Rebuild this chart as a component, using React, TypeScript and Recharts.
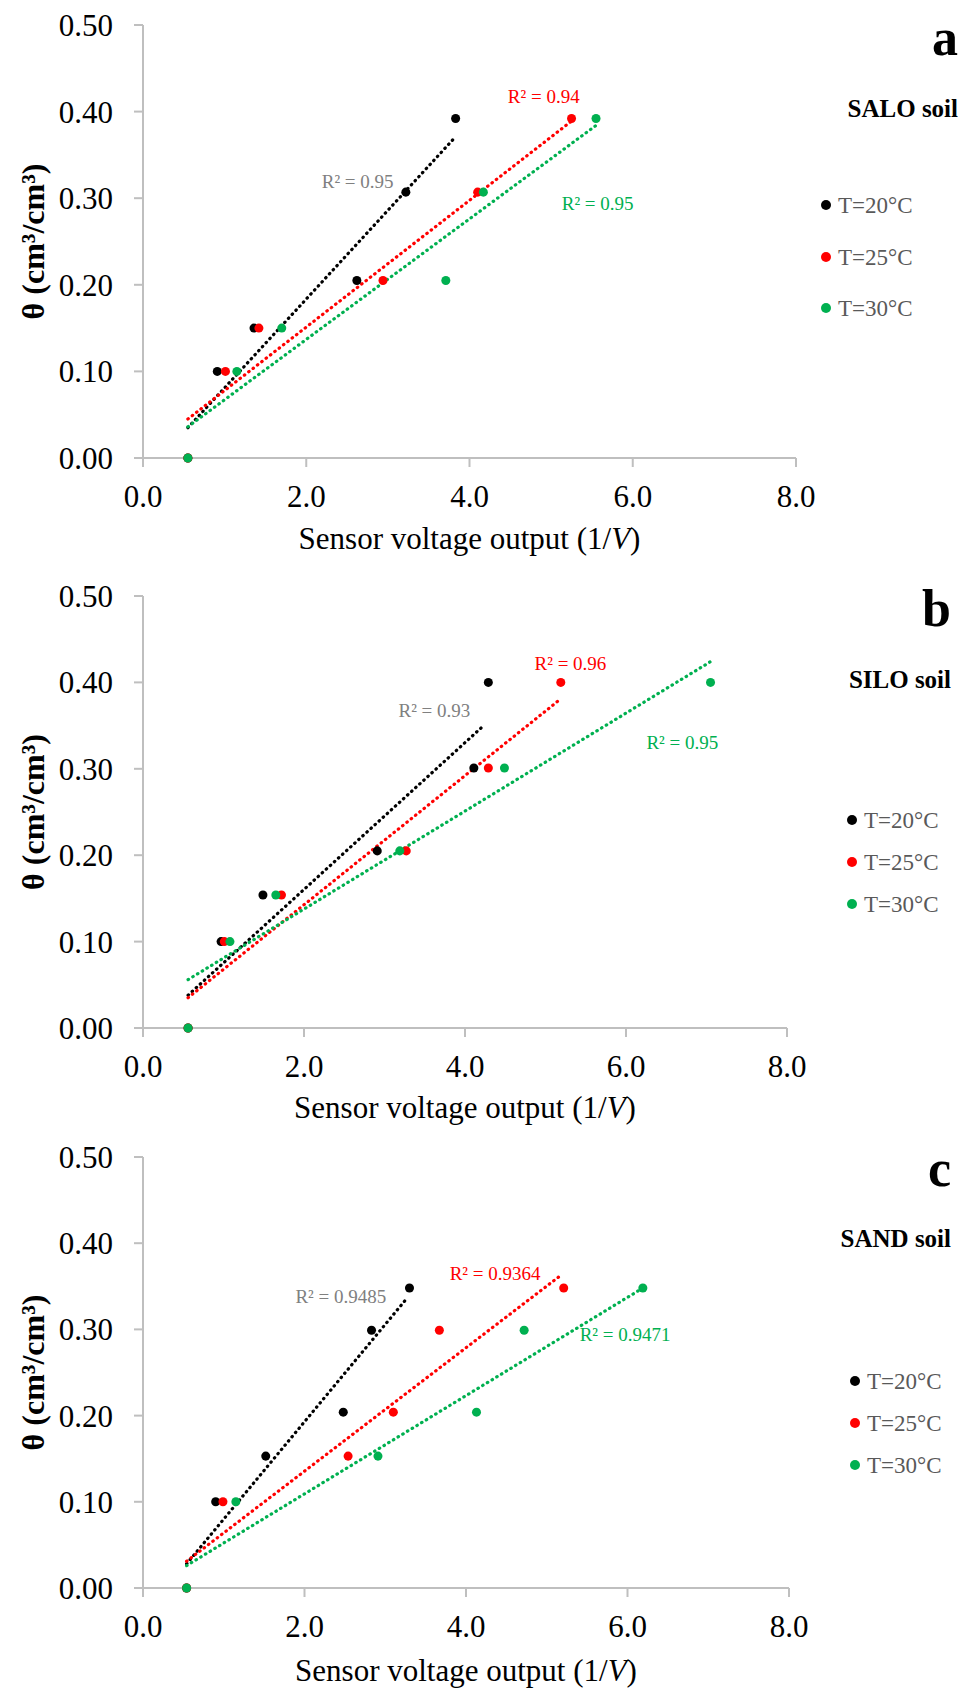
import { ScatterChart, Scatter, XAxis, YAxis, ReferenceLine, ReferenceDot } from 'recharts';

const FONT = "'Liberation Serif', 'Times New Roman', serif";
const AXIS = '#bfbfbf';
const COLORS = ['#000000', '#ff0000', '#00b050'];
const R2_COLORS = ['#808080', '#ff0000', '#00b050'];

const xTicks = [0, 2, 4, 6, 8];
const yTicks = [0, 0.1, 0.2, 0.3, 0.4, 0.5];
const tempLabels = ['T=20°C', 'T=25°C', 'T=30°C'];

// a - SALO soil
const saloTheta = [0, 0.1, 0.15, 0.205, 0.307, 0.392];
const saloV20 = [0.55, 0.91, 1.36, 2.62, 3.22, 3.83];
const saloV25 = [0.55, 1.01, 1.42, 2.94, 4.1, 5.25];
const saloV30 = [0.55, 1.15, 1.7, 3.71, 4.17, 5.55];
const saloTrend20 = [0.55, 0.035, 3.83, 0.371];
const saloTrend25 = [0.55, 0.045, 5.25, 0.389];
const saloTrend30 = [0.55, 0.036, 5.55, 0.384];
const saloR2 = ['R² = 0.95', 'R² = 0.94', 'R² = 0.95'];
const saloR2At = [[2.63, 0.32], [4.91, 0.418], [5.57, 0.294]];

// b - SILO soil
const siloTheta = [0, 0.1, 0.154, 0.205, 0.301, 0.4];
const siloV20 = [0.56, 0.97, 1.49, 2.91, 4.11, 4.29];
const siloV25 = [0.56, 1.01, 1.72, 3.27, 4.29, 5.19];
const siloV30 = [0.56, 1.08, 1.65, 3.19, 4.49, 7.05];
const siloTrend20 = [0.56, 0.038, 4.22, 0.349];
const siloTrend25 = [0.56, 0.035, 5.19, 0.381];
const siloTrend30 = [0.56, 0.056, 7.05, 0.424];
const siloR2 = ['R² = 0.93', 'R² = 0.96', 'R² = 0.95'];
const siloR2At = [[3.62, 0.368], [5.31, 0.422], [6.7, 0.331]];

// c - SAND soil
const sandTheta = [0, 0.1, 0.153, 0.204, 0.299, 0.348];
const sandV20 = [0.54, 0.9, 1.52, 2.48, 2.83, 3.3];
const sandV25 = [0.54, 0.99, 2.54, 3.1, 3.67, 5.21];
const sandV30 = [0.54, 1.15, 2.91, 4.13, 4.72, 6.19];
const sandTrend20 = [0.54, 0.028, 3.25, 0.334];
const sandTrend25 = [0.54, 0.031, 5.15, 0.361];
const sandTrend30 = [0.54, 0.026, 6.19, 0.348];
const sandR2 = ['R² = 0.9485', 'R² = 0.9364', 'R² = 0.9471'];
const sandR2At = [[2.45, 0.338], [4.36, 0.365], [5.97, 0.294]];

const panels = [
  {
    theta: saloTheta, volts: [saloV20, saloV25, saloV30], trends: [saloTrend20, saloTrend25, saloTrend30],
    r2: saloR2, r2At: saloR2At,
    top: 0, height: 560, mt: 25, mr: 172, xh: 102, titleDy: 80,
  },
  {
    theta: siloTheta, volts: [siloV20, siloV25, siloV30], trends: [siloTrend20, siloTrend25, siloTrend30],
    r2: siloR2, r2At: siloR2At,
    top: 570, height: 560, mt: 26, mr: 181, xh: 102, titleDy: 79,
  },
  {
    theta: sandTheta, volts: [sandV20, sandV25, sandV30], trends: [sandTrend20, sandTrend25, sandTrend30],
    r2: sandR2, r2At: sandR2At,
    top: 1130, height: 558, mt: 27, mr: 179, xh: 100, titleDy: 82,
  },
];

// letter, soil name, legend placement
const sideNotes = [
  { letter: 'a', soil: 'SALO soil', right: 958, letterY: 55, soilY: 117, dotX: 826, dotY: [205, 257, 308] },
  { letter: 'b', soil: 'SILO soil', right: 951, letterY: 626, soilY: 688, dotX: 852, dotY: [820, 862, 904] },
  { letter: 'c', soil: 'SAND soil', right: 951, letterY: 1186, soilY: 1247, dotX: 855, dotY: [1381, 1423, 1465] },
];

const xTitle = (dy: number) => (props: any) => {
  const vb = props.viewBox;
  return (
    <text x={vb.x + vb.width / 2} y={vb.y + dy} textAnchor="middle" dominantBaseline="central"
      fontFamily={FONT} fontSize={31} fill="#000">
      Sensor voltage output (1/<tspan fontStyle="italic">V</tspan>)
    </text>
  );
};

const yTitle = (props: any) => {
  const vb = props.viewBox;
  const cx = vb.x + 33;
  const cy = vb.y + vb.height / 2;
  return (
    <text x={cx} y={cy} transform={`rotate(-90, ${cx}, ${cy})`} textAnchor="middle" dominantBaseline="central"
      fontFamily={FONT} fontSize={32} fontWeight="bold" fill="#000">
      θ (cm³/cm³)
    </text>
  );
};

const tickStyle = { fill: '#000', fontSize: 31, fontFamily: FONT, style: { fontFamily: FONT } };

function Panel({ p }: { p: any }) {
  const series = p.volts.map((v: number[]) => v.map((x, i) => ({ x, y: p.theta[i] })));
  return (
    <div style={{ position: 'absolute', left: 0, top: p.top, fontFamily: FONT }}>
      <ScatterChart width={968} height={p.height} margin={{ top: p.mt, right: p.mr, bottom: 0, left: 0 }}
        style={{ fontFamily: FONT }}>
        <XAxis type="number" dataKey="x" domain={[0, 8]} ticks={xTicks} tickFormatter={(v: number) => v.toFixed(1)}
          stroke={AXIS} strokeWidth={2} tickSize={9} tickMargin={18} height={p.xh} fontFamily={FONT}
          tick={tickStyle} label={{ content: xTitle(p.titleDy) }} />
        <YAxis type="number" dataKey="y" domain={[0, 0.5]} ticks={yTicks} tickFormatter={(v: number) => v.toFixed(2)}
          stroke={AXIS} strokeWidth={2} tickSize={9} tickMargin={21} width={143} fontFamily={FONT}
          tick={tickStyle} label={{ content: yTitle }} />
        {p.trends.map((t: number[], i: number) => (
          <ReferenceLine key={`t${i}`} segment={[{ x: t[0], y: t[1] }, { x: t[2], y: t[3] }]}
            stroke={COLORS[i]} strokeWidth={3.2} strokeDasharray="0.5 5" strokeLinecap="round" />
        ))}
        {series.map((d: any[], i: number) => (
          <Scatter key={`s${i}`} name={tempLabels[i]} data={d} fill={COLORS[i]} isAnimationActive={false} />
        ))}
        {p.r2.map((txt: string, i: number) => (
          <ReferenceDot key={`r${i}`} x={p.r2At[i][0]} y={p.r2At[i][1]} r={0} fill="none" stroke="none"
            label={{ value: txt, position: 'center', fill: R2_COLORS[i], fontSize: 19, fontFamily: FONT }} />
        ))}
      </ScatterChart>
    </div>
  );
}

export default function App() {
  return (
    <div style={{ position: 'absolute', left: 0, top: 0, width: 968, height: 1688, background: '#fff', fontFamily: FONT }}>
      {panels.map((p, i) => <Panel key={i} p={p} />)}
      <svg width={968} height={1688} style={{ position: 'absolute', left: 0, top: 0, pointerEvents: 'none' }}>
        {sideNotes.map((n, k) => (
          <g key={k} fontFamily={FONT}>
            <text x={n.right} y={n.letterY} textAnchor="end" fontSize={52} fontWeight="bold" fill="#000">{n.letter}</text>
            <text x={n.right} y={n.soilY} textAnchor="end" fontSize={25} fontWeight="bold" fill="#000">{n.soil}</text>
            {tempLabels.map((t, i) => (
              <g key={t}>
                <circle cx={n.dotX} cy={n.dotY[i]} r={5} fill={COLORS[i]} />
                <text x={n.dotX + 12} y={n.dotY[i] + 8} fontSize={23} fill="#595959">{t}</text>
              </g>
            ))}
          </g>
        ))}
      </svg>
    </div>
  );
}
